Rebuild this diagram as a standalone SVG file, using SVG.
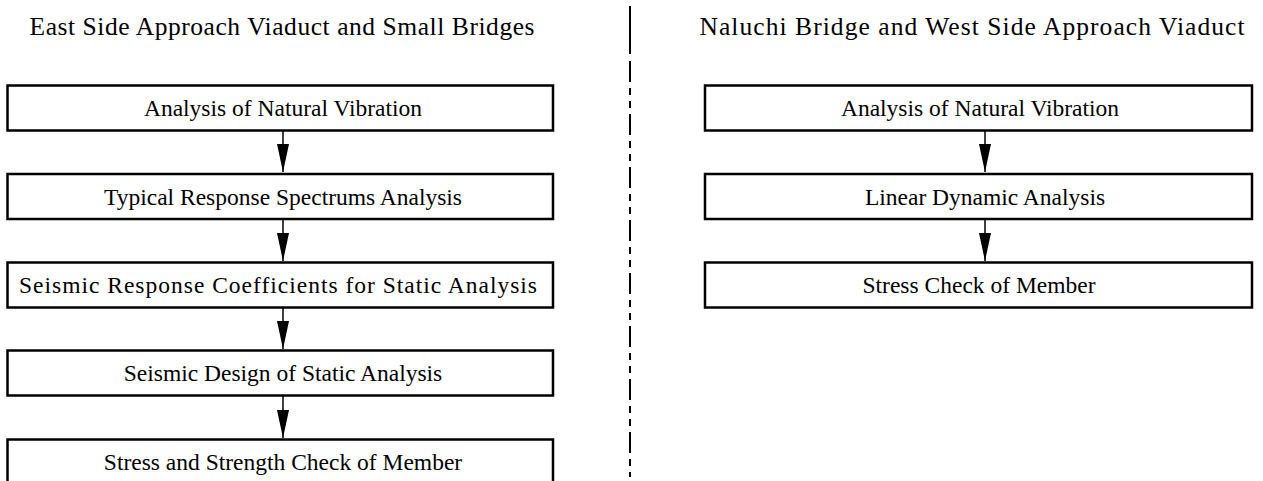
<svg xmlns="http://www.w3.org/2000/svg" width="1263" height="481" viewBox="0 0 1263 481">
<style>
.box{fill:#fff;stroke:#000;stroke-width:2.5}
.t{font-family:"Liberation Serif","Times New Roman",serif;font-size:23.5px;fill:#000;text-anchor:middle}
.h{font-family:"Liberation Serif","Times New Roman",serif;font-size:25.5px;fill:#000;text-anchor:middle}
.c{stroke:#000;stroke-width:1.5;fill:none}
.div{stroke:#000;stroke-width:2;fill:none}
</style>
<defs>
<marker id="ah" markerUnits="userSpaceOnUse" markerWidth="28" markerHeight="12" refX="28" refY="6" orient="auto" viewBox="0 0 28 12">
<path d="M0,0 L28,6 L0,12 Z" fill="#000"/>
</marker>
</defs>
<text class="h" x="282" y="35" textLength="505" lengthAdjust="spacing">East Side Approach Viaduct and Small Bridges</text>
<text class="h" x="972" y="35" textLength="545" lengthAdjust="spacing">Naluchi Bridge and West Side Approach Viaduct</text>
<g id="divider">
<line class="div" x1="630" y1="6" x2="630" y2="54"/>
<line class="div" x1="630" y1="61" x2="630" y2="477" stroke-dasharray="21 6 7 6 7 6"/>
</g>
<g id="connectors">
<line class="c" x1="283" y1="131" x2="283" y2="172" marker-end="url(#ah)"/>
<line class="c" x1="283" y1="220" x2="283" y2="261" marker-end="url(#ah)"/>
<line class="c" x1="283" y1="308" x2="283" y2="349" marker-end="url(#ah)"/>
<line class="c" x1="283" y1="396" x2="283" y2="438" marker-end="url(#ah)"/>
<line class="c" x1="985" y1="131" x2="985" y2="172" marker-end="url(#ah)"/>
<line class="c" x1="985" y1="220" x2="985" y2="261" marker-end="url(#ah)"/>
</g>
<g id="e1"><rect class="box" x="7.5" y="85.5" width="545.5" height="45"/><text class="t" x="283" y="116">Analysis of Natural Vibration</text></g>
<g id="e2"><rect class="box" x="7.5" y="174" width="545.5" height="45"/><text class="t" x="283" y="205">Typical Response Spectrums Analysis</text></g>
<g id="e3"><rect class="box" x="7.5" y="262.5" width="545.5" height="45"/><text class="t" x="278" y="293" textLength="518" lengthAdjust="spacing">Seismic Response Coefficients for Static Analysis</text></g>
<g id="e4"><rect class="box" x="7.5" y="350.5" width="545.5" height="45"/><text class="t" x="283" y="381">Seismic Design of Static Analysis</text></g>
<g id="e5"><rect class="box" x="7.5" y="439.5" width="545.5" height="45"/><text class="t" x="283" y="470">Stress and Strength Check of Member</text></g>
<g id="w1"><rect class="box" x="705" y="85.5" width="547" height="45"/><text class="t" x="980" y="116">Analysis of Natural Vibration</text></g>
<g id="w2"><rect class="box" x="705" y="174" width="547" height="45"/><text class="t" x="985" y="205">Linear Dynamic Analysis</text></g>
<g id="w3"><rect class="box" x="705" y="262.5" width="547" height="45"/><text class="t" x="979" y="293">Stress Check of Member</text></g>
</svg>
